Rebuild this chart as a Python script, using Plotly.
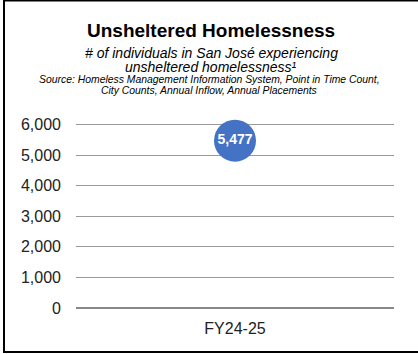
import plotly.graph_objects as go

categories = ["FY24-25"]
values = [5477]
labels = ["5,477"]
tick_vals = [0, 1000, 2000, 3000, 4000, 5000, 6000]
tick_text = ["0", "1,000", "2,000", "3,000", "4,000", "5,000", "6,000"]

FONT = "Liberation Sans, Arial, sans-serif"
W, H = 418, 354
L, R, T, B = 76, 24, 119, 46
pw, ph = W - L - R, H - T - B

def px2x(px):
    return (px - L) / pw

def py2y(py):
    return (H - B - py) / ph

fig = go.Figure()
fig.add_trace(go.Scatter(
    x=categories, y=values, mode="markers+text",
    text=labels, textposition="middle center",
    textfont=dict(family=FONT, size=14, color="white", weight="bold"),
    marker=dict(size=42, color="#4472C4", line=dict(width=0)),
    hoverinfo="skip", cliponaxis=False,
))

fig.update_layout(
    width=W, height=H,
    margin=dict(l=L, r=R, t=T, b=B),
    paper_bgcolor="white", plot_bgcolor="white",
    showlegend=False,
    font=dict(family=FONT, color="black"),
    xaxis=dict(
        type="category", range=[-0.5, 0.5], showgrid=False, showline=False,
        zeroline=False, ticks="", tickfont=dict(size=16, color="#222"),
        ticklabelstandoff=9,
    ),
    yaxis=dict(
        range=[0, 6186], tickvals=tick_vals, ticktext=tick_text,
        showgrid=True, gridcolor="#999999", gridwidth=1.3,
        zeroline=True, zerolinecolor="#888888", zerolinewidth=2,
        showline=False, ticks="", tickfont=dict(size=16, color="#222"),
        ticklabelstandoff=14,
    ),
    shapes=[dict(
        type="rect", xref="paper", yref="paper",
        x0=px2x(4), x1=px2x(440), y0=py2y(352), y1=py2y(0.5),
        line=dict(color="black", width=2), fillcolor="rgba(0,0,0,0)", layer="above",
    )],
    annotations=[
        dict(text="<b>Unsheltered Homelessness</b>", x=px2x(211), y=py2y(30),
             xref="paper", yref="paper", showarrow=False, xanchor="center", yanchor="middle",
             font=dict(size=19, color="black", family=FONT)),
        dict(text="<i># of individuals in San José experiencing</i>", x=px2x(211), y=py2y(53),
             xref="paper", yref="paper", showarrow=False, xanchor="center", yanchor="middle",
             font=dict(size=14, color="black", family=FONT)),
        dict(text="<i>unsheltered homelessness¹</i>", x=px2x(211), y=py2y(67),
             xref="paper", yref="paper", showarrow=False, xanchor="center", yanchor="middle",
             font=dict(size=14, color="black", family=FONT)),
        dict(text="<i>Source: Homeless Management Information System, Point in Time Count,</i>",
             x=px2x(209), y=py2y(79.5), xref="paper", yref="paper", showarrow=False,
             xanchor="center", yanchor="middle", font=dict(size=10.4, color="black", family=FONT)),
        dict(text="<i>City Counts, Annual Inflow, Annual Placements</i>",
             x=px2x(209), y=py2y(90), xref="paper", yref="paper", showarrow=False,
             xanchor="center", yanchor="middle", font=dict(size=10.4, color="black", family=FONT)),
    ],
)

fig.write_html("out.html")
